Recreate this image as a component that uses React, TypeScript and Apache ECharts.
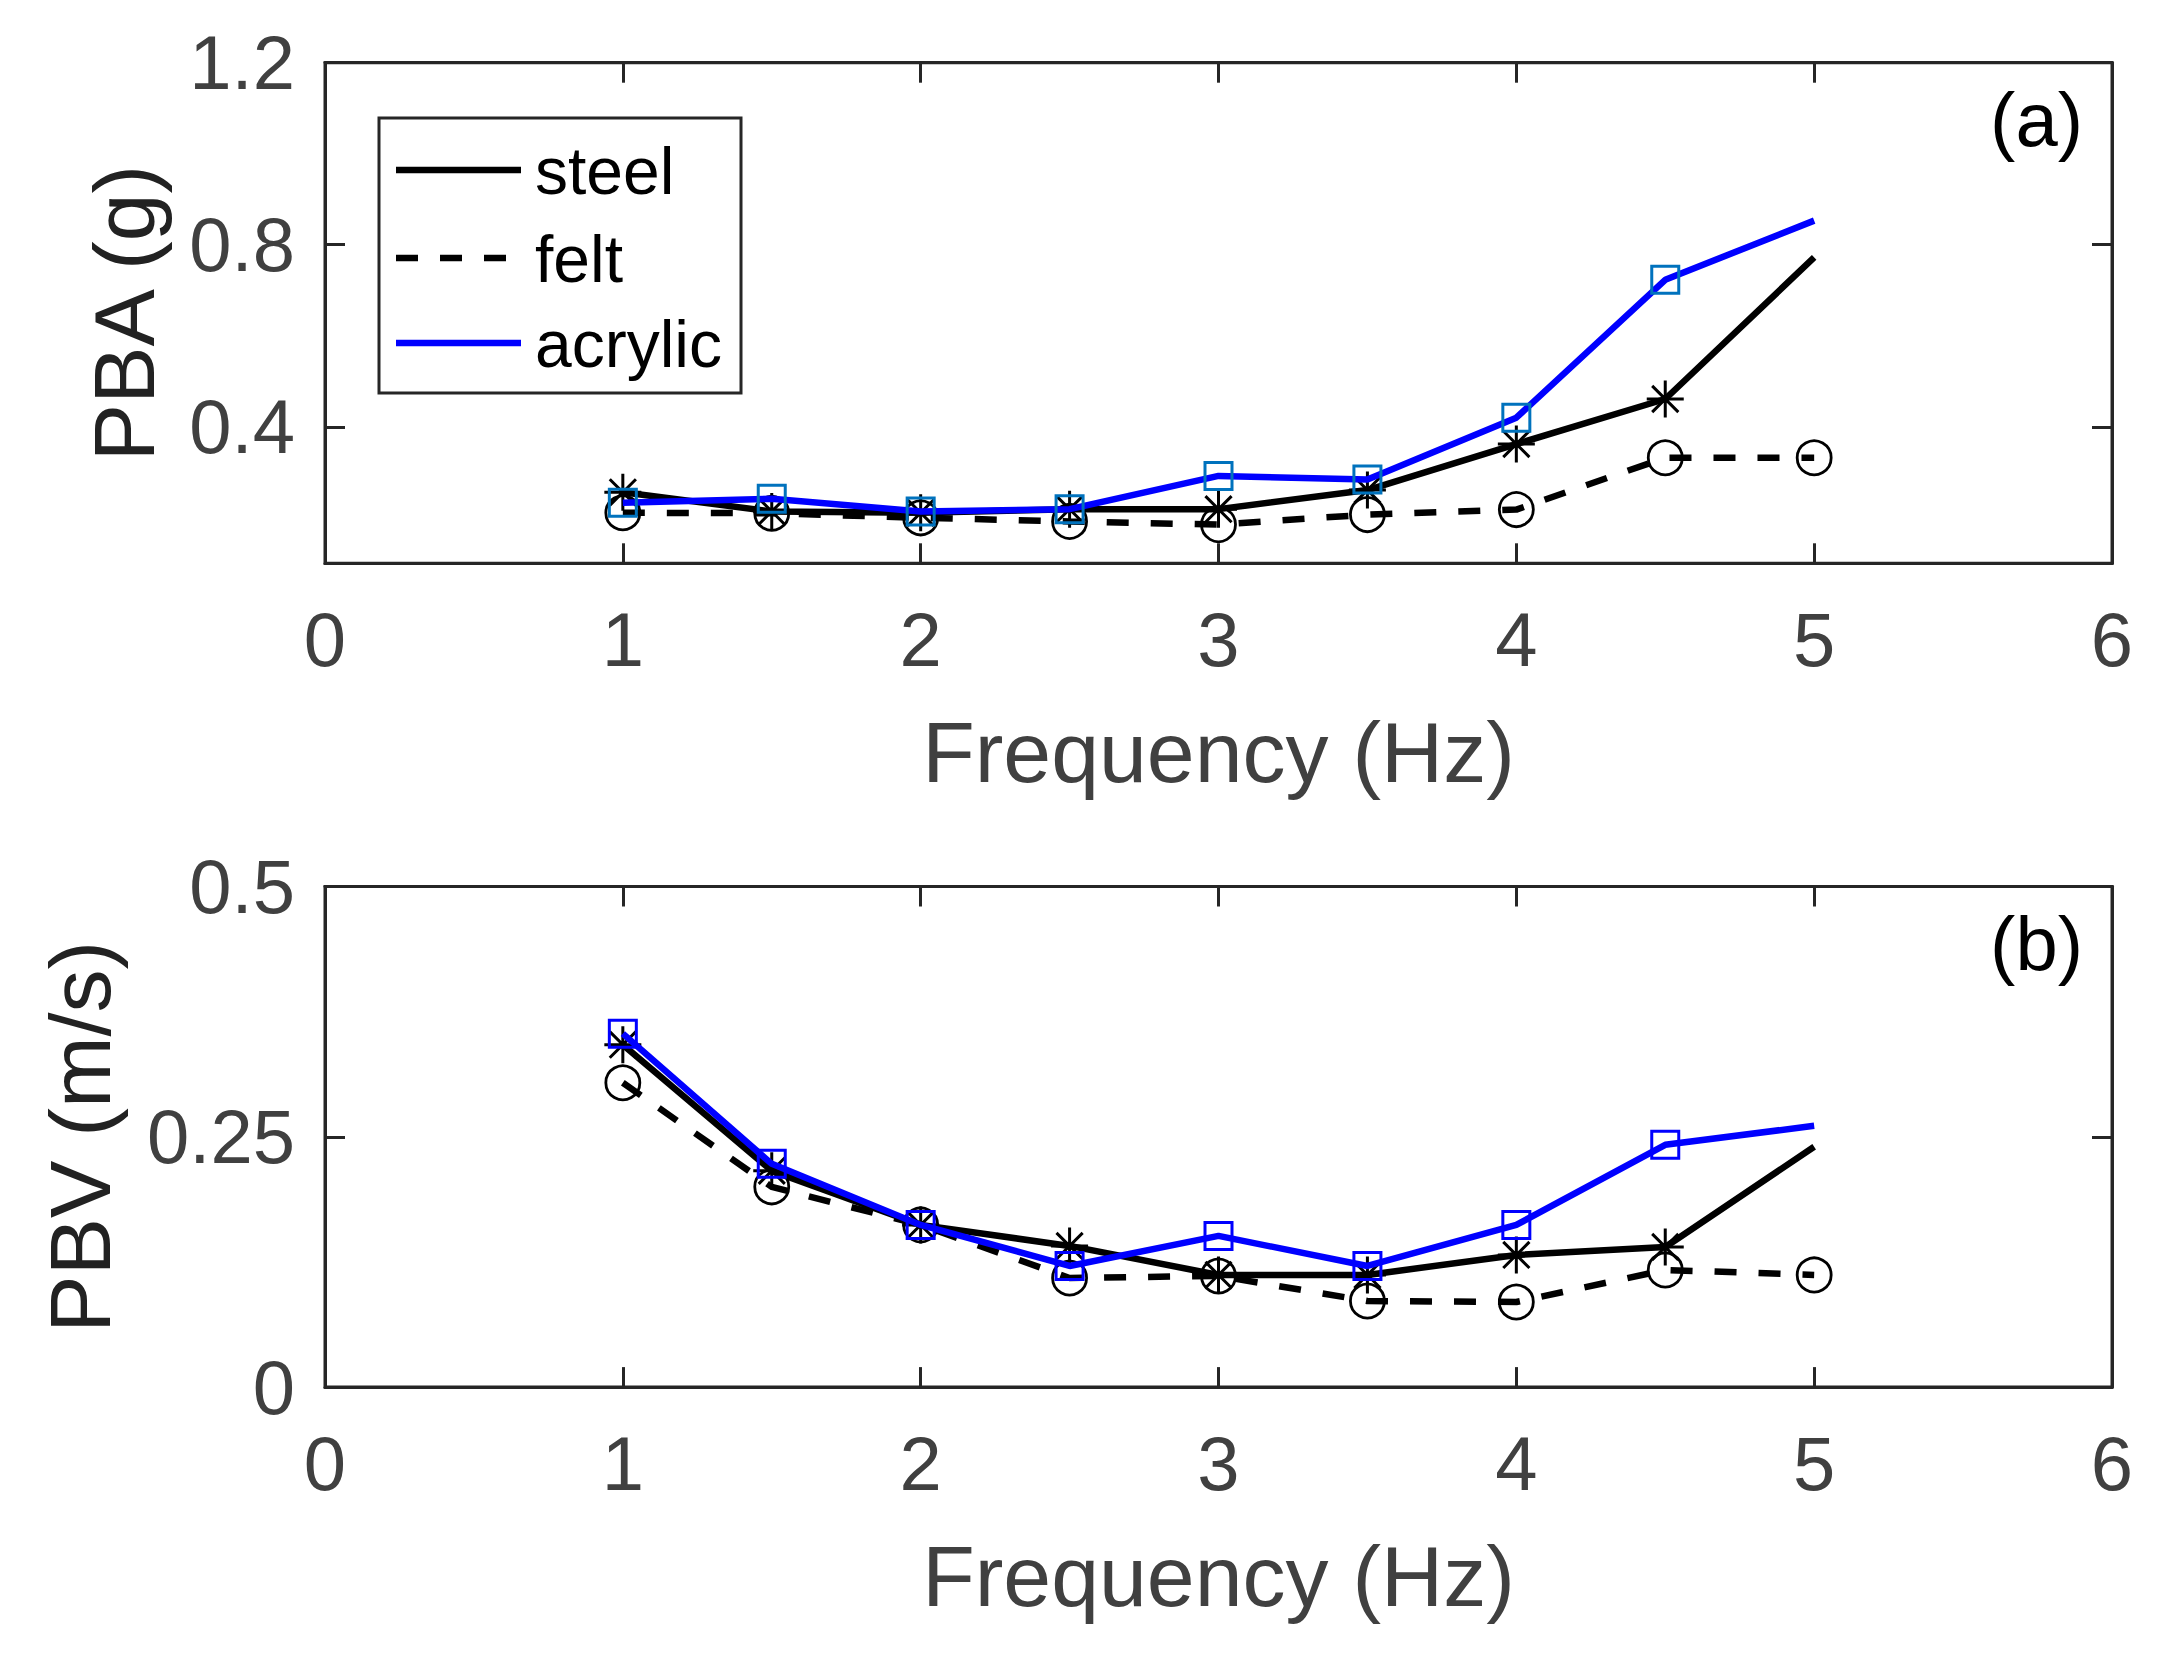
import React, { useEffect, useRef } from "react";
import * as echarts from "echarts";

const freq = [1, 1.5, 2, 2.5, 3, 3.5, 4, 4.5, 5];
const pbaSteel = [0.256, 0.214, 0.211, 0.219, 0.219, 0.261, 0.362, 0.461, 0.772];
const pbaFelt = [0.211, 0.21, 0.2, 0.192, 0.185, 0.207, 0.218, 0.332, 0.332];
const pbaAcrylic = [0.233, 0.242, 0.214, 0.219, 0.292, 0.284, 0.42, 0.723, 0.853];
const pbvSteel = [0.342, 0.216, 0.162, 0.141, 0.112, 0.112, 0.132, 0.14, 0.24];
const pbvFelt = [0.304, 0.2, 0.162, 0.109, 0.111, 0.086, 0.085, 0.117, 0.112];
const pbvAcrylic = [0.353, 0.223, 0.162, 0.121, 0.151, 0.121, 0.162, 0.242, 0.261];

const xTicks = [0, 1, 2, 3, 4, 5, 6];
const pbaTicks = [0.4, 0.8, 1.2];
const pbvTicks = [0, 0.25, 0.5];
const legendNames = ["steel", "felt", "acrylic"];
const panelLabels = ["(a)", "(b)"];

const FONT = '"Liberation Sans", Arial, Helvetica, sans-serif';
const AXIS_COLOR = "#262626";
const TICK_COLOR = "#404040";
const ASTERISK =
  "path://M0,-10L0,10M-10,0L10,0M-7.07,-7.07L7.07,7.07M-7.07,7.07L7.07,-7.07";

const GRID_LEFT = 325;
const GRID_W = 1787;
const GRID_H = 500.6;
const TOPS = [62.7, 886.5];
const LINE_W = 6.5;

function pairs(ys: number[], noLastMarker: boolean) {
  return ys.map((y, i) =>
    noLastMarker && i === ys.length - 1
      ? { value: [freq[i], y], symbol: "none" }
      : { value: [freq[i], y] }
  );
}

export default function App() {
  const ref = useRef<HTMLDivElement>(null);
  useEffect(() => {
    if (!ref.current) return;
    const chart = echarts.init(ref.current, null, { renderer: "svg" });

    const tickStyle = { show: true, inside: true, length: 20, lineStyle: { color: AXIS_COLOR, width: 3 } };
    const axisLine = { show: true, onZero: false, lineStyle: { color: AXIS_COLOR, width: 3 } };

    const xAxes: any[] = [];
    const yAxes: any[] = [];
    [0, 1].forEach((g) => {
      xAxes.push({
        type: "value",
        gridIndex: g,
        position: "bottom",
        min: 0,
        max: 6,
        interval: 1,
        axisLine,
        axisTick: tickStyle,
        splitLine: { show: false },
        axisLabel: {
          show: true,
          margin: 38,
          fontSize: 76,
          lineHeight: 76,
          fontFamily: FONT,
          color: TICK_COLOR,
          customValues: xTicks,
        },
        name: "Frequency (Hz)",
        nameLocation: "middle",
        nameGap: 146,
        nameTextStyle: { fontSize: 86, lineHeight: 86, fontFamily: FONT, color: TICK_COLOR },
      });
      xAxes.push({
        type: "value",
        gridIndex: g,
        position: "top",
        min: 0,
        max: 6,
        interval: 1,
        axisLine,
        axisTick: tickStyle,
        splitLine: { show: false },
        axisLabel: { show: false },
      });
      const ticks = g === 0 ? pbaTicks : pbvTicks;
      const yMin = g === 0 ? 0.1 : 0;
      const yMax = g === 0 ? 1.2 : 0.5;
      yAxes.push({
        type: "value",
        gridIndex: g,
        position: "left",
        min: yMin,
        max: yMax,
        axisLine,
        axisTick: { ...tickStyle, customValues: ticks },
        splitLine: { show: false },
        axisLabel: {
          show: true,
          margin: 30,
          fontSize: 76,
          lineHeight: 76,
          fontFamily: FONT,
          color: TICK_COLOR,
          customValues: ticks,
          formatter: (v: number) => String(v),
        },
        name: g === 0 ? "PBA (g)" : "PBV (m/s)",
        nameLocation: "middle",
        nameRotate: 90,
        nameGap: g === 0 ? 158 : 202,
        nameTextStyle: { fontSize: 86, lineHeight: 86, fontFamily: FONT, color: "#222222" },
      });
      yAxes.push({
        type: "value",
        gridIndex: g,
        position: "right",
        min: yMin,
        max: yMax,
        axisLine,
        axisTick: { ...tickStyle, customValues: ticks },
        splitLine: { show: false },
        axisLabel: { show: false },
      });
    });

    const mk = (
      name: string,
      g: number,
      ys: number[],
      kind: "steel" | "felt" | "acrylic"
    ) => {
      const base: any = {
        name,
        type: "line",
        xAxisIndex: g * 2,
        yAxisIndex: g * 2,
        showAllSymbol: true,
        silent: true,
        z: kind === "acrylic" ? 4 : kind === "steel" ? 3 : 2,
      };
      if (kind === "steel") {
        return {
          ...base,
          data: pairs(ys, true),
          symbol: ASTERISK,
          symbolSize: 37,
          lineStyle: { color: "#000000", width: LINE_W, type: "solid" },
          itemStyle: { color: "none", borderColor: "#000000", borderWidth: 3 },
        };
      }
      if (kind === "felt") {
        return {
          ...base,
          data: pairs(ys, false),
          symbol: "circle",
          symbolSize: 34,
          lineStyle: { color: "#000000", width: LINE_W, type: [22, 22] },
          itemStyle: { color: "none", borderColor: "#000000", borderWidth: 2.8 },
        };
      }
      return {
        ...base,
        data: pairs(ys, true),
        symbol: "rect",
        symbolSize: 27,
        lineStyle: { color: "#0000FF", width: LINE_W, type: "solid" },
        itemStyle: {
          color: "none",
          borderColor: g === 0 ? "#0072BD" : "#0000FF",
          borderWidth: 3,
        },
      };
    };

    const series = [
      mk("steel", 0, pbaSteel, "steel"),
      mk("felt", 0, pbaFelt, "felt"),
      mk("acrylic", 0, pbaAcrylic, "acrylic"),
      mk("steel", 1, pbvSteel, "steel"),
      mk("felt", 1, pbvFelt, "felt"),
      mk("acrylic", 1, pbvAcrylic, "acrylic"),
    ];

    const legendYs = [170, 258, 343];
    const legendStyles = [
      { stroke: "#000000", lineDash: null as any },
      { stroke: "#000000", lineDash: [22, 22] },
      { stroke: "#0000FF", lineDash: null as any },
    ];
    const legendChildren: any[] = [
      {
        type: "rect",
        shape: { x: 379, y: 118, width: 362, height: 275 },
        style: { fill: "#ffffff", stroke: AXIS_COLOR, lineWidth: 3 },
      },
    ];
    legendNames.forEach((n, i) => {
      legendChildren.push({
        type: "line",
        shape: { x1: 396, y1: legendYs[i], x2: 521, y2: legendYs[i] },
        style: { stroke: legendStyles[i].stroke, lineWidth: LINE_W, lineDash: legendStyles[i].lineDash },
      });
      legendChildren.push({
        type: "text",
        x: 535,
        y: legendYs[i] + 1,
        style: {
          text: n,
          fontSize: 66,
          fontFamily: FONT,
          fill: "#000000",
          textVerticalAlign: "middle",
          verticalAlign: "middle",
        },
      });
    });

    const graphic: any[] = [
      { type: "group", z: 100, children: legendChildren },
      ...panelLabels.map((t, i) => ({
        type: "text",
        z: 100,
        x: 2083,
        y: TOPS[i] + 57,
        style: {
          text: t,
          fontSize: 76,
          fontFamily: FONT,
          fill: "#000000",
          align: "right",
          textAlign: "right",
          verticalAlign: "middle",
          textVerticalAlign: "middle",
        },
      })),
    ];

    chart.setOption({
      animation: false,
      backgroundColor: "#ffffff",
      grid: TOPS.map((t) => ({
        left: GRID_LEFT,
        top: t,
        width: GRID_W,
        height: GRID_H,
        show: true,
        borderColor: AXIS_COLOR,
        borderWidth: 3,
        backgroundColor: "#ffffff",
        containLabel: false,
        outerBoundsMode: "none",
      })),
      xAxis: xAxes,
      yAxis: yAxes,
      series,
      graphic,
    });
    return () => chart.dispose();
  }, []);
  return (
    <div
      ref={ref}
      style={{ position: "absolute", left: 0, top: 0, width: 2170, height: 1664, background: "#fff" }}
    />
  );
}
